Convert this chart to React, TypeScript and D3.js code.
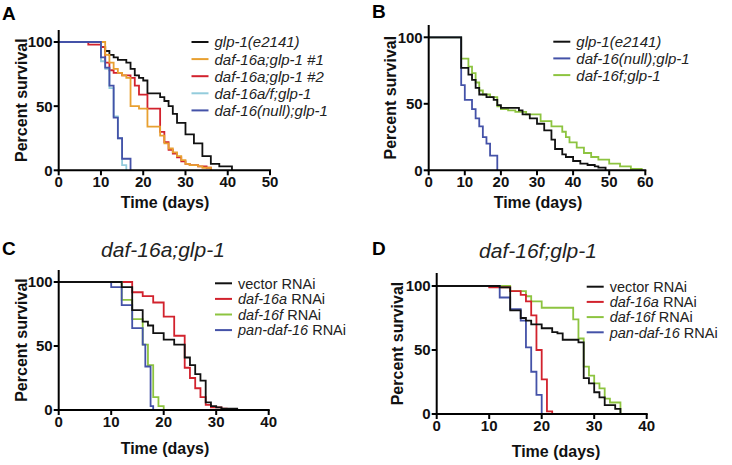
import React from 'react';
import * as d3 from 'd3';

type Pt = [number, number];

// ---------- tick labels ----------
const percentTicks = [0, 50, 100];
const timeTicksA = [0, 10, 20, 30, 40, 50];
const timeTicksB = [0, 10, 20, 30, 40, 50, 60];
const timeTicksCD = [0, 10, 20, 30, 40];

// ---------- Panel A series (day, % survival) ----------
const aGlp1: Pt[] = [[0,100],[10,96],[11,93],[12,90],[13,88],[14,86],[16,84],[17,79],[18,74],[19,72],[20,70],[21,60],[24,57],[25,54],[26,50],[27,44],[28,37],[30,28],[32,21],[34,11],[36,5],[38,3],[41,0]];
const aDaf16a1: Pt[] = [[0,100],[11,90],[12,84],[13,79],[14,76],[15,74],[16,72],[17,50],[19,48],[21,34],[24,27],[25,21],[26,17],[27,14],[28,11],[29,8],[30,5],[31,4],[33,3],[34,2],[36,0]];
const aDaf16a2: Pt[] = [[0,100],[7,98],[10,96],[11,84],[12,78],[13,76],[15,74],[17,72],[18,66],[19,59],[21,48],[24,30],[25,22],[26,16],[27,13],[28,10],[29,7],[30,5],[31,4],[33,3],[35,2],[36,0]];
const aDaf16af: Pt[] = [[0,100],[10,85],[11,79],[12,64],[13,42],[14,25],[15,4],[16,0]];
const aNull: Pt[] = [[0,100],[10,88],[11,80],[12,66],[13,41],[14,25],[15,9],[17,0]];

// ---------- Panel B ----------
const bGlp1: Pt[] = [[0,100],[9,77],[11,72],[12,68],[13,62],[14,57],[16,55],[18,53],[19,49],[20,47],[25,45],[26,42],[28,39],[30,35],[32,30],[34,23],[35,16],[37,12],[38,10],[40,7],[42,5],[44,4],[46,3],[47,2],[49,0]];
const bNull: Pt[] = [[0,100],[9,64],[10,53],[12,46],[13,39],[14,33],[15,25],[16,20],[17,11],[19,0]];
const bDaf16f: Pt[] = [[0,100],[9,84],[11,78],[12,73],[13,66],[14,60],[15,57],[17,55],[19,48],[20,46],[22,45],[24,44],[27,42],[31,37],[34,33],[37,29],[38,25],[39,21],[41,17],[43,13],[45,10],[47,8],[50,5],[53,3],[56,1],[59,0]];

// ---------- Panel C ----------
const cVector: Pt[] = [[0,100],[12,96],[14,78],[16,69],[17,66],[18,60],[20,55],[22,51],[24,41],[25,35],[26,28],[27,23],[28,6],[29,3],[30,2],[31,1],[34,0]];
const cDaf16a: Pt[] = [[0,100],[14,92],[16,89],[18,84],[20,73],[22,58],[24,33],[25,25],[26,17],[27,10],[28,4],[29,2],[31,1],[32,0]];
const cDaf16f: Pt[] = [[0,100],[12,86],[14,71],[16,51],[17,35],[18,10],[19,3],[20,0]];
const cPan: Pt[] = [[0,100],[10,96],[12,82],[14,64],[16,51],[16.5,34],[17.5,3],[18,0]];

// ---------- Panel D ----------
const dVector: Pt[] = [[0,100],[12,99],[14,81],[16,75],[17,73],[18,70],[20,67],[22,64],[23,63],[24,58],[27,56],[28,28],[29,24],[30,17],[31,13],[32,7],[34,4],[35,0]];
const dDaf16a: Pt[] = [[0,100],[10,99],[14,96],[16,93],[17,88],[18,77],[19,50],[20,27],[21,2],[22,0]];
const dDaf16f: Pt[] = [[0,100],[14,96],[17,92],[18,88],[20,83],[26,74],[27,59],[28,37],[29,30],[30,24],[31,20],[32,12],[33,9],[35,0]];
const dPan: Pt[] = [[0,100],[12,91],[14,82],[16,73],[17,52],[18,33],[19,15],[20,0]];

const BLACK = '#111111';
const ORANGE = '#E8A030';
const RED = '#D2222D';
const LIGHTBLUE = '#93CCDC';
const DARKBLUE = '#4452A8';
const GREEN = '#8DC440';

const FONT = "'Liberation Sans', Arial, Helvetica, sans-serif";

type Piece = { t: string; i?: boolean };
type Series = { data: Pt[]; color: string };
type LegendItem = { color: string; label: Piece[] };

type PanelProps = {
  letter: string;
  letterX: number;
  letterY: number;
  title?: string;
  titleX?: number;
  titleY?: number;
  px0: number;
  px1: number;
  py100: number;
  py0: number;
  axisTop: number;
  xMax: number;
  xTicks: number[];
  series: Series[];
  legend: LegendItem[];
  legX: number;
  legY: number;
  legDy: number;
  legFont: number;
  yLabelX: number;
  xLabelX: number;
  xLabelY: number;
};

function Panel(p: PanelProps) {
  const x = d3.scaleLinear().domain([0, p.xMax]).range([p.px0, p.px1]);
  const y = d3.scaleLinear().domain([0, 100]).range([p.py0, p.py100]);
  const line = d3
    .line<Pt>()
    .x((d) => x(d[0]))
    .y((d) => y(d[1]))
    .curve(d3.curveStepAfter);
  const yMid = (p.axisTop + p.py0) / 2;
  return (
    <g>
      <text x={p.letterX} y={p.letterY} fontFamily={FONT} fontWeight="bold" fontSize={19} fill="#000">
        {p.letter}
      </text>
      {p.title && (
        <text x={p.titleX} y={p.titleY} textAnchor="middle" fontFamily={FONT} fontStyle="italic" fontSize={21} fill="#222">
          {p.title}
        </text>
      )}
      {p.series.map((s, i) => (
        <path key={i} d={line(s.data) || ''} fill="none" stroke={s.color} strokeWidth={1.8} />
      ))}
      {/* y axis */}
      <line x1={p.px0} x2={p.px0} y1={p.axisTop} y2={p.py0 + 1} stroke="#000" strokeWidth={2} />
      {percentTicks.map((t) => (
        <g key={t}>
          <line x1={p.px0 - 5} x2={p.px0} y1={y(t)} y2={y(t)} stroke="#000" strokeWidth={2} />
          <text x={p.px0 - 6} y={y(t)} dy="0.36em" textAnchor="end" fontFamily={FONT} fontWeight="bold" fontSize={15} fill="#111">
            {t}
          </text>
        </g>
      ))}
      {/* x axis */}
      <line x1={p.px0 - 1} x2={p.px1 + 1} y1={p.py0} y2={p.py0} stroke="#000" strokeWidth={2} />
      {p.xTicks.map((t) => (
        <g key={t}>
          <line x1={x(t)} x2={x(t)} y1={p.py0} y2={p.py0 + 5} stroke="#000" strokeWidth={2} />
          <text x={x(t)} y={p.py0 + 17} textAnchor="middle" fontFamily={FONT} fontWeight="bold" fontSize={15} fill="#111">
            {t}
          </text>
        </g>
      ))}
      <text
        transform={`translate(${p.yLabelX},${yMid}) rotate(-90)`}
        textAnchor="middle"
        fontFamily={FONT}
        fontWeight="bold"
        fontSize={16}
        fill="#111"
      >
        Percent survival
      </text>
      <text x={p.xLabelX} y={p.xLabelY} textAnchor="middle" fontFamily={FONT} fontWeight="bold" fontSize={16} fill="#111">
        Time (days)
      </text>
      {p.legend.map((l, i) => {
        const ly = p.legY + i * p.legDy;
        return (
          <g key={i}>
            <line x1={p.legX} x2={p.legX + 17} y1={ly} y2={ly} stroke={l.color} strokeWidth={2} />
            <text x={p.legX + 23} y={ly} dy="0.36em" fontFamily={FONT} fontSize={p.legFont} fill="#222">
              {l.label.map((pc, j) => (
                <tspan key={j} fontStyle={pc.i ? 'italic' : 'normal'}>
                  {pc.t}
                </tspan>
              ))}
            </text>
          </g>
        );
      })}
    </g>
  );
}

export default function App() {
  return (
    <svg
      width={732}
      height={465}
      viewBox="0 0 732 465"
      style={{ position: 'absolute', left: 0, top: 0, background: '#fff' }}
    >
      <rect width={732} height={465} fill="#fff" />
      <Panel
        letter="A"
        letterX={2}
        letterY={20}
        px0={58.7}
        px1={270}
        py100={42}
        py0={170.3}
        axisTop={30}
        xMax={50}
        xTicks={timeTicksA}
        series={[
          { data: aGlp1, color: BLACK },
          { data: aDaf16a2, color: RED },
          { data: aDaf16a1, color: ORANGE },
          { data: aDaf16af, color: LIGHTBLUE },
          { data: aNull, color: DARKBLUE },
        ]}
        legend={[
          { color: BLACK, label: [{ t: 'glp-1(e2141)', i: true }] },
          { color: ORANGE, label: [{ t: 'daf-16a;glp-1 #1', i: true }] },
          { color: RED, label: [{ t: 'daf-16a;glp-1 #2', i: true }] },
          { color: LIGHTBLUE, label: [{ t: 'daf-16a/f;glp-1', i: true }] },
          { color: DARKBLUE, label: [{ t: 'daf-16(null);glp-1', i: true }] },
        ]}
        legX={191.5}
        legY={42}
        legDy={17.1}
        legFont={15}
        yLabelX={27}
        xLabelX={165}
        xLabelY={208}
      />
      <Panel
        letter="B"
        letterX={372}
        letterY={18}
        px0={428.7}
        px1={645.3}
        py100={37.3}
        py0={170.3}
        axisTop={25}
        xMax={60}
        xTicks={timeTicksB}
        series={[
          { data: bDaf16f, color: GREEN },
          { data: bNull, color: DARKBLUE },
          { data: bGlp1, color: BLACK },
        ]}
        legend={[
          { color: BLACK, label: [{ t: 'glp-1(e2141)', i: true }] },
          { color: DARKBLUE, label: [{ t: 'daf-16(null);glp-1', i: true }] },
          { color: GREEN, label: [{ t: 'daf-16f;glp-1', i: true }] },
        ]}
        legX={553.3}
        legY={41.7}
        legDy={16.7}
        legFont={15}
        yLabelX={396}
        xLabelX={538}
        xLabelY={208}
      />
      <Panel
        letter="C"
        letterX={2}
        letterY={255}
        title="daf-16a;glp-1"
        titleX={163}
        titleY={257}
        px0={58.7}
        px1={268.7}
        py100={282}
        py0={410}
        axisTop={270}
        xMax={40}
        xTicks={timeTicksCD}
        series={[
          { data: cDaf16a, color: RED },
          { data: cDaf16f, color: GREEN },
          { data: cPan, color: DARKBLUE },
          { data: cVector, color: BLACK },
        ]}
        legend={[
          { color: BLACK, label: [{ t: 'vector RNAi' }] },
          { color: RED, label: [{ t: 'daf-16a', i: true }, { t: ' RNAi' }] },
          { color: GREEN, label: [{ t: 'daf-16f', i: true }, { t: ' RNAi' }] },
          { color: DARKBLUE, label: [{ t: 'pan-daf-16', i: true }, { t: ' RNAi' }] },
        ]}
        legX={215}
        legY={283.3}
        legDy={15.6}
        legFont={14.5}
        yLabelX={27}
        xLabelX={165}
        xLabelY={454}
      />
      <Panel
        letter="D"
        letterX={372}
        letterY={255}
        title="daf-16f;glp-1"
        titleX={538}
        titleY={258}
        px0={436.7}
        px1={646.7}
        py100={286}
        py0={414}
        axisTop={273}
        xMax={40}
        xTicks={timeTicksCD}
        series={[
          { data: dDaf16f, color: GREEN },
          { data: dDaf16a, color: RED },
          { data: dPan, color: DARKBLUE },
          { data: dVector, color: BLACK },
        ]}
        legend={[
          { color: BLACK, label: [{ t: 'vector RNAi' }] },
          { color: RED, label: [{ t: 'daf-16a', i: true }, { t: ' RNAi' }] },
          { color: GREEN, label: [{ t: 'daf-16f', i: true }, { t: ' RNAi' }] },
          { color: DARKBLUE, label: [{ t: 'pan-daf-16', i: true }, { t: ' RNAi' }] },
        ]}
        legX={586.7}
        legY={286.7}
        legDy={15.2}
        legFont={14.5}
        yLabelX={403}
        xLabelX={556}
        xLabelY={457}
      />
    </svg>
  );
}
